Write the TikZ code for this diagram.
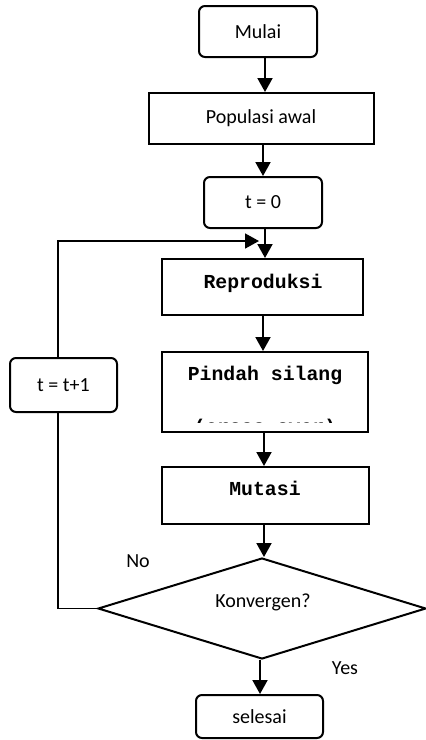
\documentclass[tikz,border=0pt]{standalone}
\usepackage{fontspec}
\setmainfont{Carlito}
\newfontfamily\cour{Liberation Mono}
\usetikzlibrary{arrows.meta,shapes.geometric}
\begin{document}
\begin{tikzpicture}[x=1pt,y=-1pt,
  txt/.style={font=\fontsize{20}{24}\selectfont},
  rbox/.style={draw,line width=2pt,rounded corners=6pt,inner sep=0pt,txt},
  sbox/.style={draw,line width=2pt,inner sep=0pt,txt},
  mono/.style={font=\cour\bfseries\fontsize{19.8}{22}\selectfont,inner sep=0pt},
  arr/.style={line width=2pt,-{Triangle[length=14pt,width=15pt]}},
  lin/.style={line width=1.6pt}]
\useasboundingbox (0,0) rectangle (426,740);
% guide coordinates
\coordinate (xa) at (265,0);
\coordinate (xb) at (263,0);
\coordinate (xc) at (264,0);
\coordinate (xd) at (260,0);
\coordinate (xl) at (58,0);
\coordinate (loopend) at (259,241);
% nodes
\node[rbox,minimum width=118pt,minimum height=51pt] (mulai) at (258,31.5) {Mulai};
\node[sbox,minimum width=225pt,minimum height=51pt] (pop) at (261,118.5) {Populasi awal};
\node[rbox,minimum width=118pt,minimum height=51pt] (t0) at (263,202.5) {t = 0};
\node[sbox,minimum width=201pt,minimum height=56pt] (repro) at (262.5,287) {};
\node[mono] (reprot) at (263,283) {Reproduksi};
\node[sbox,minimum width=206pt,minimum height=80pt] (pindah) at (265,392) {};
\node[mono] (pindaht) at (265,375) {Pindah silang};
\begin{scope}
  \clip (163,400) rectangle (367,422.5);
  \node[mono,anchor=base] (crosst) at (265,433) {(cross over)};
\end{scope}
\node[sbox,minimum width=207pt,minimum height=57pt] (mutasi) at (265.5,495.5) {};
\node[mono] (mutasit) at (265,488) {Mutasi};
\node[draw,diamond,line width=2pt,minimum width=328pt,minimum height=101pt,aspect=3.25,inner sep=0pt] (conv) at (262,608.5) {};
\node[txt] (convt) at (263,602) {Konvergen?};
\node[txt] (no) at (138,561) {No};
\node[txt] (yes) at (345,668) {Yes};
\node[rbox,minimum width=127pt,minimum height=43pt] (sel) at (259.5,716.5) {selesai};
\node[rbox,minimum width=107pt,minimum height=54pt] (tt1) at (63.5,385) {t = t+1};
% connectors
\draw[arr] (mulai.south -| xa) -- (pop.north -| xa);
\draw[arr] (pop.south -| xb) -- (t0.north -| xb);
\draw[arr] (t0.south -| xa) -- (repro.north -| xa);
\draw[arr] (repro.south -| xb) -- (pindah.north -| xb);
\draw[arr] (pindah.south -| xc) -- (mutasi.north -| xc);
\draw[arr] (mutasi.south -| xc) -- (conv.north -| xc);
\draw[arr] (conv.south -| xd) -- (sel.north -| xd);
\draw[lin] (conv.west) -- (conv.west -| xl) -- (tt1.south -| xl);
\draw[lin,-{Triangle[length=14pt,width=15pt]}] (tt1.north -| xl) |- (loopend);
\end{tikzpicture}
\end{document}
